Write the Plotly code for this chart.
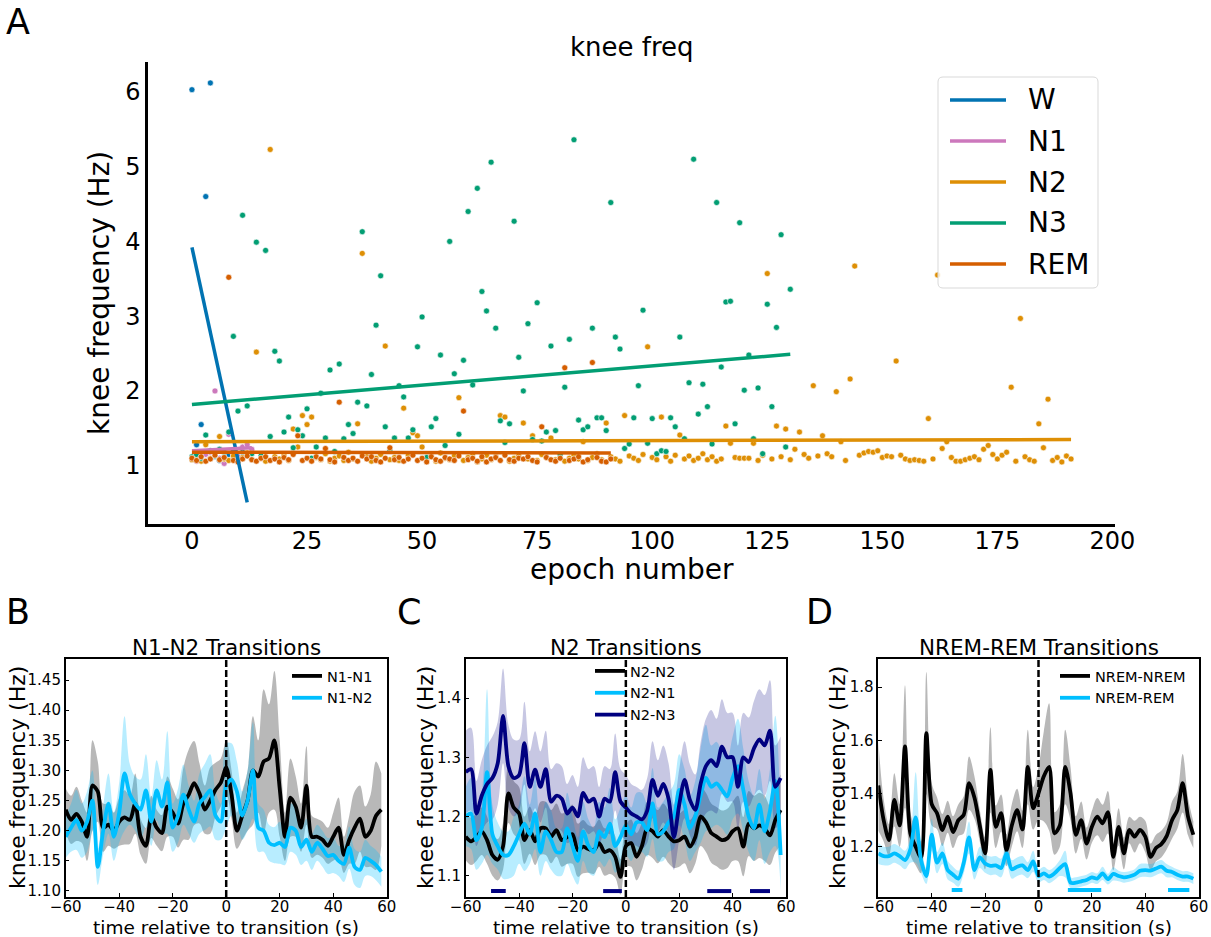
import plotly.graph_objects as go

FONT = "DejaVu Sans"

# ---------------- Panel A: knee frequency per epoch, by sleep stage ----------------
stages = ["W", "N1", "N2", "N3", "REM"]

knee_W = [6.03, 1.28, 1.55, 4.60, 6.12, 1.12, 1.07, 1.10, 1.15, 1.20, 1.12, 1.18, 1.13]

knee_N1 = [1.08, 1.06, 1.12, 1.15, 1.18, 2.00, 1.10, 1.03, 1.42, 1.15, 1.12, 1.25, 1.28, 1.22]

knee_N2 = [
    1.08, 1.12, 1.06, 1.28, 1.10, 1.15, 1.39, 1.09, 1.07, 1.13,
    1.05, 1.11, 1.17, 1.08, 2.52, 1.10, 1.06, 5.23, 1.12, 1.09,
    1.14, 1.07, 1.49, 1.25, 1.67, 1.55, 1.65, 1.11, 1.08, 1.16,
    1.06, 1.10, 1.13, 1.07, 1.18, 1.09, 1.56, 3.84, 1.12, 1.06,
    1.10, 1.15, 2.60, 1.08, 1.11, 1.07, 1.77, 1.14, 1.44, 1.40,
    1.25, 1.09, 1.12, 1.06, 1.17, 1.10, 1.08, 1.13, 1.91, 1.07,
    1.11, 1.16, 1.05, 1.09, 1.14, 1.08, 1.12, 1.67, 1.65, 1.06,
    1.10, 1.13, 1.57, 1.09, 1.40, 1.07, 1.15, 1.11, 1.37, 1.08,
    1.12, 1.06, 1.10, 1.14, 1.09, 1.32, 1.07, 1.11, 1.16, 1.08,
    1.57, 1.12, 1.09, 1.06, 1.67, 1.13, 1.10, 1.07, 1.15, 2.59,
    1.11, 1.08, 1.65, 1.12, 1.06, 1.14, 1.41, 1.09, 1.13, 1.07,
    1.10, 1.16, 1.08, 1.12, 1.06, 1.09, 1.53, 1.30, 1.11, 1.10,
    1.10, 1.10, 1.30, 1.07, 1.14, 3.57, 1.09, 1.53, 1.12, 1.49,
    1.08, 1.22, 1.45, 1.15, 1.10, 2.07, 1.13, 1.40, 1.16, 1.12,
    1.99, 1.32, 1.07, 2.16, 3.67, 1.14, 1.17, 1.19, 1.18, 1.20,
    1.11, 1.13, 1.12, 2.40, 1.14, 1.09, 1.07, 1.08, 1.07, 1.06,
    1.63, 1.09, 3.55, 1.23, 1.32, 1.11, 1.06, 1.06, 1.08, 1.10,
    1.12, 1.08, 1.22, 1.27, 1.15, 1.09, 1.14, 1.18, 2.05, 1.06,
    2.97, 1.12, 1.08, 1.06, 1.56, 1.24, 1.89, 1.07, 1.11, 1.05,
    1.13, 1.09,
]

knee_N3 = [
    1.12, 1.15, 1.10, 1.41, 1.20, 1.13, 1.22, 1.18, 1.45, 2.73,
    1.73, 4.35, 1.80, 1.16, 3.99, 1.13, 3.88, 1.39, 2.53, 2.40,
    1.45, 1.65, 1.24, 1.48, 1.40, 1.76, 1.10, 1.25, 1.97, 1.37,
    2.28, 1.19, 2.36, 1.36, 1.55, 1.43, 1.85, 4.13, 1.80, 2.22,
    2.88, 3.54, 1.52, 1.21, 1.37, 2.07, 1.92, 1.37, 1.48, 2.59,
    2.99, 1.11, 1.52, 1.63, 2.48, 1.27, 4.00, 2.23, 1.42, 2.41,
    4.40, 2.08, 4.71, 3.33, 3.07, 5.06, 2.84, 1.60, 1.31, 1.56,
    4.27, 2.45, 2.00, 2.90, 1.35, 3.18, 1.33, 1.45, 2.60, 1.47,
    1.15, 2.05, 2.69, 5.36, 1.61, 1.48, 1.52, 2.84, 1.64, 1.64,
    1.47, 4.52, 2.72, 2.56, 1.23, 1.29, 1.64, 2.07, 3.08, 1.30,
    1.63, 1.16, 1.20, 1.19, 1.64, 1.52, 2.72, 1.36, 2.11, 5.10,
    1.69, 2.09, 1.79, 1.29, 4.52, 2.32, 3.19, 3.20, 1.56, 4.25,
    2.01, 2.48, 1.36, 2.04, 1.16, 3.16, 1.79, 2.85, 4.09, 1.25,
    3.36,
]

knee_REM = [
    1.10, 1.07, 1.12, 1.06, 1.09, 1.14, 1.08, 1.11, 3.52, 1.07,
    1.05, 1.09, 1.13, 1.08, 1.06, 1.10, 1.12, 1.07, 1.09, 1.05,
    1.11, 1.08, 1.15, 1.40, 1.07, 1.10, 1.06, 1.12, 1.09, 1.23,
    1.08, 1.05, 1.85, 1.11, 1.07, 1.10, 1.06, 1.13, 1.09, 1.12,
    1.07, 1.05, 1.10, 1.24, 1.08, 1.11, 1.06, 1.09, 1.14, 1.07,
    1.10, 1.05, 1.12, 1.08, 1.06, 1.11, 1.09, 1.07, 1.13, 1.73,
    1.08, 1.10, 1.06, 1.12, 1.05, 1.09, 1.11, 1.07, 1.14, 1.08,
    1.06, 1.10, 1.09, 1.12, 1.07, 1.05, 1.52, 1.11, 1.08, 1.06,
    1.10, 2.31, 1.07, 1.09, 1.12, 1.05, 1.08, 2.38, 1.11, 1.06,
    1.05, 1.09,
]

# linear trend per stage: fitted value at the first and at the last epoch
fit_first = [3.92, 1.20, 1.32, 1.82, 1.18]
fit_last = [0.51, 1.24, 1.35, 2.49, 1.17]

# ---------------- Panels B-D: transition-locked averages ----------------
t_sec = list(range(-60, 60, 2))

# B: N1-N2 transitions
B_N1N1 = [1.235, 1.218, 1.228, 1.215, 1.190, 1.275, 1.265, 1.205, 1.210, 1.200,
          1.215, 1.222, 1.218, 1.245, 1.190, 1.175, 1.223, 1.205, 1.196, 1.240,
          1.230, 1.212, 1.245, 1.260, 1.279, 1.262, 1.235, 1.250, 1.268, 1.280,
          1.305, 1.260, 1.200, 1.225, 1.250, 1.300, 1.290, 1.315, 1.320, 1.350,
          1.270, 1.190, 1.255, 1.240, 1.205, 1.275, 1.190, 1.190, 1.185, 1.175,
          1.190, 1.205, 1.160, 1.185, 1.205, 1.220, 1.190, 1.200, 1.225, 1.235]
B_N1N1_ci = [0.035, 0.040, 0.045, 0.035, 0.040, 0.075, 0.050, 0.040, 0.035, 0.030,
             0.040, 0.045, 0.040, 0.050, 0.030, 0.030, 0.035, 0.030, 0.030, 0.050,
             0.040, 0.040, 0.060, 0.075, 0.070, 0.050, 0.040, 0.055, 0.045, 0.040,
             0.045, 0.040, 0.030, 0.040, 0.050, 0.090, 0.060, 0.120, 0.090, 0.115,
             0.080, 0.040, 0.065, 0.050, 0.040, 0.065, 0.035, 0.030, 0.030, 0.030,
             0.040, 0.050, 0.030, 0.040, 0.060, 0.055, 0.050, 0.060, 0.090, 0.060]
B_N1N2 = [1.190, 1.205, 1.218, 1.200, 1.215, 1.250, 1.140, 1.200, 1.245, 1.190,
          1.230, 1.295, 1.260, 1.245, 1.235, 1.267, 1.215, 1.267, 1.240, 1.280,
          1.205, 1.225, 1.260, 1.235, 1.215, 1.245, 1.256, 1.267, 1.225, 1.215,
          1.275, 1.285, 1.265, 1.225, 1.250, 1.300, 1.205, 1.200, 1.180, 1.176,
          1.180, 1.173, 1.205, 1.200, 1.173, 1.185, 1.165, 1.180, 1.170, 1.158,
          1.160, 1.150, 1.145, 1.172, 1.140, 1.135, 1.155, 1.150, 1.143, 1.132]
B_N1N2_ci = [0.035, 0.040, 0.050, 0.045, 0.050, 0.050, 0.030, 0.040, 0.050, 0.040,
             0.050, 0.095, 0.050, 0.045, 0.050, 0.060, 0.040, 0.050, 0.045, 0.085,
             0.040, 0.045, 0.050, 0.040, 0.035, 0.050, 0.055, 0.060, 0.040, 0.030,
             0.070, 0.060, 0.050, 0.040, 0.050, 0.080, 0.040, 0.035, 0.030, 0.030,
             0.035, 0.030, 0.040, 0.040, 0.030, 0.035, 0.030, 0.030, 0.030, 0.030,
             0.030, 0.025, 0.030, 0.035, 0.030, 0.030, 0.030, 0.025, 0.025, 0.025]

# C: N2 transitions
C_N2N2 = [1.166, 1.158, 1.165, 1.175, 1.160, 1.135, 1.127, 1.150, 1.239, 1.215,
          1.205, 1.160, 1.177, 1.158, 1.180, 1.180, 1.166, 1.177, 1.160, 1.165,
          1.170, 1.143, 1.149, 1.145, 1.143, 1.155, 1.140, 1.143, 1.132, 1.098,
          1.150, 1.155, 1.132, 1.150, 1.180, 1.175, 1.166, 1.177, 1.166, 1.158,
          1.160, 1.166, 1.149, 1.165, 1.200, 1.190, 1.172, 1.166, 1.160, 1.163,
          1.175, 1.180, 1.149, 1.188, 1.180, 1.185, 1.180, 1.168, 1.194, 1.211]
C_N2N2_ci = [0.040, 0.040, 0.040, 0.040, 0.040, 0.035, 0.035, 0.040, 0.050, 0.045,
             0.045, 0.040, 0.040, 0.040, 0.045, 0.045, 0.045, 0.045, 0.045, 0.045,
             0.050, 0.045, 0.045, 0.040, 0.040, 0.040, 0.040, 0.040, 0.035, 0.030,
             0.035, 0.040, 0.040, 0.040, 0.045, 0.045, 0.045, 0.045, 0.045, 0.045,
             0.045, 0.045, 0.045, 0.045, 0.050, 0.050, 0.050, 0.050, 0.050, 0.050,
             0.050, 0.055, 0.050, 0.055, 0.055, 0.055, 0.055, 0.050, 0.055, 0.060]
C_N2N1 = [1.200, 1.205, 1.160, 1.180, 1.275, 1.170, 1.150, 1.135, 1.135, 1.150,
          1.170, 1.188, 1.170, 1.205, 1.140, 1.175, 1.160, 1.140, 1.140, 1.180,
          1.150, 1.125, 1.175, 1.150, 1.140, 1.175, 1.165, 1.188, 1.150, 1.165,
          1.185, 1.170, 1.190, 1.190, 1.177, 1.222, 1.170, 1.175, 1.190, 1.200,
          1.245, 1.220, 1.180, 1.200, 1.235, 1.265, 1.250, 1.256, 1.245, 1.234,
          1.265, 1.285, 1.245, 1.200, 1.180, 1.220, 1.175, 1.210, 1.260, 1.135]
C_N2N1_ci = [0.050, 0.060, 0.050, 0.060, 0.140, 0.050, 0.040, 0.040, 0.040, 0.050,
             0.050, 0.080, 0.050, 0.060, 0.040, 0.050, 0.050, 0.040, 0.040, 0.060,
             0.050, 0.040, 0.050, 0.045, 0.040, 0.050, 0.050, 0.060, 0.045, 0.050,
             0.050, 0.045, 0.050, 0.050, 0.045, 0.060, 0.045, 0.050, 0.050, 0.055,
             0.060, 0.060, 0.055, 0.060, 0.080, 0.090, 0.070, 0.070, 0.065, 0.065,
             0.070, 0.080, 0.070, 0.060, 0.055, 0.060, 0.055, 0.070, 0.110, 0.060]
C_N2N3 = [1.275, 1.280, 1.205, 1.235, 1.255, 1.265, 1.290, 1.370, 1.285, 1.265,
          1.270, 1.324, 1.250, 1.279, 1.250, 1.280, 1.225, 1.235, 1.230, 1.205,
          1.215, 1.200, 1.240, 1.225, 1.230, 1.200, 1.230, 1.225, 1.275, 1.225,
          1.215, 1.205, 1.200, 1.195, 1.210, 1.262, 1.235, 1.255, 1.230, 1.165,
          1.220, 1.262, 1.228, 1.211, 1.255, 1.285, 1.295, 1.285, 1.318, 1.300,
          1.300, 1.250, 1.300, 1.292, 1.315, 1.330, 1.320, 1.345, 1.250, 1.265]
C_N2N3_ci = [0.070, 0.070, 0.055, 0.060, 0.065, 0.070, 0.070, 0.080, 0.070, 0.065,
             0.060, 0.070, 0.060, 0.065, 0.060, 0.065, 0.055, 0.055, 0.055, 0.050,
             0.055, 0.050, 0.060, 0.055, 0.055, 0.050, 0.055, 0.055, 0.065, 0.055,
             0.055, 0.050, 0.050, 0.050, 0.055, 0.065, 0.060, 0.065, 0.060, 0.055,
             0.060, 0.065, 0.060, 0.060, 0.070, 0.080, 0.085, 0.080, 0.080, 0.075,
             0.075, 0.070, 0.075, 0.075, 0.080, 0.085, 0.085, 0.085, 0.070, 0.070]
C_sig_start = [-50.5, -8.5, 30.5, 46.5]
C_sig_end = [-45.0, -1.5, 39.5, 54.0]

# D: NREM-REM transitions
D_NN = [1.430, 1.300, 1.225, 1.376, 1.280, 1.577, 1.250, 1.200, 1.160, 1.627,
        1.360, 1.326, 1.263, 1.313, 1.255, 1.300, 1.320, 1.439, 1.385, 1.280,
        1.175, 1.489, 1.275, 1.326, 1.187, 1.280, 1.338, 1.265, 1.500, 1.345,
        1.401, 1.465, 1.500, 1.250, 1.280, 1.500, 1.400, 1.245, 1.300, 1.212,
        1.275, 1.313, 1.288, 1.330, 1.162, 1.275, 1.175, 1.263, 1.238, 1.263,
        1.238, 1.162, 1.195, 1.210, 1.240, 1.300, 1.338, 1.439, 1.313, 1.245]
D_NN_ci = [0.170, 0.080, 0.060, 0.100, 0.080, 0.230, 0.080, 0.070, 0.060, 0.230,
           0.080, 0.060, 0.060, 0.060, 0.060, 0.060, 0.070, 0.100, 0.080, 0.060,
           0.060, 0.160, 0.080, 0.070, 0.060, 0.080, 0.080, 0.070, 0.140, 0.080,
           0.100, 0.170, 0.240, 0.080, 0.080, 0.140, 0.100, 0.070, 0.070, 0.060,
           0.060, 0.070, 0.070, 0.080, 0.050, 0.070, 0.060, 0.050, 0.060, 0.050,
           0.060, 0.050, 0.050, 0.050, 0.050, 0.070, 0.070, 0.110, 0.070, 0.050]
D_NR = [1.175, 1.165, 1.165, 1.175, 1.165, 1.150, 1.190, 1.310, 1.150, 1.090,
        1.245, 1.140, 1.175, 1.112, 1.095, 1.080, 1.140, 1.235, 1.112, 1.160,
        1.137, 1.128, 1.130, 1.120, 1.175, 1.115, 1.125, 1.130, 1.112, 1.145,
        1.090, 1.100, 1.088, 1.100, 1.120, 1.135, 1.065, 1.065, 1.070, 1.075,
        1.085, 1.080, 1.100, 1.078, 1.098, 1.090, 1.085, 1.088, 1.095, 1.110,
        1.112, 1.110, 1.118, 1.125, 1.110, 1.105, 1.095, 1.088, 1.088, 1.080]
D_NR_ci = [0.040, 0.035, 0.035, 0.035, 0.035, 0.035, 0.050, 0.170, 0.050, 0.030,
           0.060, 0.040, 0.040, 0.035, 0.030, 0.030, 0.040, 0.060, 0.035, 0.040,
           0.035, 0.035, 0.035, 0.035, 0.040, 0.035, 0.035, 0.035, 0.030, 0.040,
           0.025, 0.025, 0.025, 0.025, 0.030, 0.050, 0.020, 0.020, 0.020, 0.020,
           0.020, 0.020, 0.025, 0.020, 0.025, 0.020, 0.020, 0.020, 0.020, 0.025,
           0.025, 0.025, 0.025, 0.025, 0.025, 0.020, 0.020, 0.020, 0.020, 0.020]
D_sig_start = [-32.5, 11.0, 48.5]
D_sig_end = [-28.5, 23.5, 56.5]

# ---------------- styling ----------------
stage_color = {"W": "#0173b2", "N1": "#cc78bc", "N2": "#de8f05",
               "N3": "#029e73", "REM": "#d55e00"}
BLACK = "#000000"
SKY = "#00bfff"
NAVY = "#000080"
band_color = {BLACK: "rgba(0,0,0,0.28)", SKY: "rgba(0,191,255,0.28)",
              NAVY: "rgba(0,0,128,0.22)"}

W_PX, H_PX = 1211, 937


def px_x(p):
    return p / W_PX


def px_y(p):
    return 1 - p / H_PX


fig = go.Figure()

# ---- Panel A ----
stage_values = [knee_W, knee_N1, knee_N2, knee_N3, knee_REM]
for name, vals in zip(stages, stage_values):
    fig.add_trace(go.Scatter(
        x=list(range(len(vals))), y=vals, mode="markers",
        marker=dict(size=6, color=stage_color[name], line=dict(width=0.6, color="white")),
        showlegend=False, hoverinfo="skip", xaxis="x", yaxis="y"))
for name, vals, y0, y1 in zip(stages, stage_values, fit_first, fit_last):
    fig.add_trace(go.Scatter(
        x=[0, len(vals) - 1], y=[y0, y1], mode="lines", name=name,
        line=dict(color=stage_color[name], width=3.5),
        showlegend=False, xaxis="x", yaxis="y"))


def add_band(mean, ci, color, ax):
    upper = [m + c for m, c in zip(mean, ci)]
    lower = [m - c for m, c in zip(mean, ci)]
    fig.add_trace(go.Scatter(x=t_sec, y=upper, mode="lines", line=dict(width=0, shape="spline"),
                             showlegend=False, hoverinfo="skip", xaxis="x" + ax, yaxis="y" + ax))
    fig.add_trace(go.Scatter(x=t_sec, y=lower, mode="lines", line=dict(width=0, shape="spline"),
                             fill="tonexty", fillcolor=band_color[color],
                             showlegend=False, hoverinfo="skip", xaxis="x" + ax, yaxis="y" + ax))


def add_mean(mean, color, ax, legend, name):
    fig.add_trace(go.Scatter(x=t_sec, y=mean, mode="lines", name=name,
                             line=dict(color=color, width=3.8, shape="spline", smoothing=0.8),
                             legend=legend, xaxis="x" + ax, yaxis="y" + ax))


def add_sig(starts, ends, level, color, ax):
    for s, e in zip(starts, ends):
        fig.add_trace(go.Scatter(x=[s, e], y=[level, level], mode="lines",
                                 line=dict(color=color, width=4), showlegend=False,
                                 hoverinfo="skip", xaxis="x" + ax, yaxis="y" + ax))


# ---- Panel B ----
add_band(B_N1N1, B_N1N1_ci, BLACK, "2")
add_band(B_N1N2, B_N1N2_ci, SKY, "2")
add_mean(B_N1N1, BLACK, "2", "legend2", "N1-N1")
add_mean(B_N1N2, SKY, "2", "legend2", "N1-N2")

# ---- Panel C ----
add_band(C_N2N2, C_N2N2_ci, BLACK, "3")
add_band(C_N2N1, C_N2N1_ci, SKY, "3")
add_band(C_N2N3, C_N2N3_ci, NAVY, "3")
add_mean(C_N2N2, BLACK, "3", "legend3", "N2-N2")
add_mean(C_N2N1, SKY, "3", "legend3", "N2-N1")
add_mean(C_N2N3, NAVY, "3", "legend3", "N2-N3")
add_sig(C_sig_start, C_sig_end, 1.074, NAVY, "3")

# ---- Panel D ----
add_band(D_NN, D_NN_ci, BLACK, "4")
add_band(D_NR, D_NR_ci, SKY, "4")
add_mean(D_NN, BLACK, "4", "legend4", "NREM-NREM")
add_mean(D_NR, SKY, "4", "legend4", "NREM-REM")
add_sig(D_sig_start, D_sig_end, 1.037, SKY, "4")

tick_font_small = dict(family=FONT, size=15, color="black")
x_ticks = [-60, -40, -20, 0, 20, 40, 60]
x_ticktext = ["\u221260", "\u221240", "\u221220", "0", "20", "40", "60"]


def small_xaxis(domain, anchor):
    return dict(domain=domain, range=[-60, 60], tickvals=x_ticks, ticktext=x_ticktext,
                ticks="inside", ticklen=4, tickcolor="black", showline=True, mirror=True,
                linecolor="black", linewidth=1.5, showgrid=False, zeroline=False,
                tickfont=tick_font_small, anchor=anchor, automargin=False,
                ticklabelstandoff=-5)


def small_yaxis(domain, rng, vals, fmt, anchor):
    return dict(domain=domain, range=rng, tickvals=vals, ticktext=[fmt.format(v) for v in vals],
                ticks="inside", ticklen=4, tickcolor="black", showline=True, mirror=True,
                linecolor="black", linewidth=1.5, showgrid=False, zeroline=False,
                tickfont=tick_font_small, anchor=anchor, automargin=False)


y_small = [px_y(897), px_y(659)]

legend_common = dict(xanchor="left", yanchor="top", traceorder="normal",
                     bgcolor="rgba(0,0,0,0)", font=dict(family=FONT, size=14.5, color="black"))

fig.update_layout(
    width=W_PX, height=H_PX, margin=dict(l=0, r=0, t=0, b=0, autoexpand=False),
    paper_bgcolor="white", plot_bgcolor="white",
    font=dict(family=FONT, color="black"),
    xaxis=dict(domain=[px_x(148), px_x(1115)], range=[-9.55, 200.55],
               tickvals=[0, 25, 50, 75, 100, 125, 150, 175, 200], ticks="",
               showline=True, linecolor="black", linewidth=2.5, showgrid=False, zeroline=False,
               tickfont=dict(family=FONT, size=24, color="black"), anchor="y", automargin=False,
               ticklabelstandoff=-7),
    yaxis=dict(domain=[px_y(524), px_y(62)], range=[0.22, 6.40],
               tickvals=[1, 2, 3, 4, 5, 6], ticks="",
               showline=True, linecolor="black", linewidth=2.5, showgrid=False, zeroline=False,
               tickfont=dict(family=FONT, size=24, color="black"), anchor="x", automargin=False),
    xaxis2=small_xaxis([px_x(65.7), px_x(386.7)], "y2"),
    yaxis2=small_yaxis(y_small, [1.09, 1.485], [1.10, 1.15, 1.20, 1.25, 1.30, 1.35, 1.40, 1.45],
                       "{:.2f}", "x2"),
    xaxis3=small_xaxis([px_x(465.7), px_x(786)], "y3"),
    yaxis3=small_yaxis(y_small, [1.064, 1.466], [1.1, 1.2, 1.3, 1.4], "{:.1f}", "x3"),
    xaxis4=small_xaxis([px_x(878.3), px_x(1198.7)], "y4"),
    yaxis4=small_yaxis(y_small, [1.011, 1.906], [1.2, 1.4, 1.6, 1.8], "{:.1f}", "x4"),
    legend2=dict(legend_common, x=px_x(287), y=px_y(660)),
    legend3=dict(legend_common, x=px_x(590), y=px_y(655)),
    legend4=dict(legend_common, x=px_x(1055), y=px_y(660)),
)

# Panel A legend box with one long colour handle per stage
box_l, box_r, box_t, box_b, rad = 938, 1098, 77, 288, 5
fig.add_shape(type="path", xref="paper", yref="paper",
              path=(f"M{px_x(box_l + rad)},{px_y(box_t)} L{px_x(box_r - rad)},{px_y(box_t)} "
                    f"Q{px_x(box_r)},{px_y(box_t)} {px_x(box_r)},{px_y(box_t + rad)} "
                    f"L{px_x(box_r)},{px_y(box_b - rad)} "
                    f"Q{px_x(box_r)},{px_y(box_b)} {px_x(box_r - rad)},{px_y(box_b)} "
                    f"L{px_x(box_l + rad)},{px_y(box_b)} "
                    f"Q{px_x(box_l)},{px_y(box_b)} {px_x(box_l)},{px_y(box_b - rad)} "
                    f"L{px_x(box_l)},{px_y(box_t + rad)} "
                    f"Q{px_x(box_l)},{px_y(box_t)} {px_x(box_l + rad)},{px_y(box_t)} Z"),
              fillcolor="rgba(255,255,255,0.8)", line=dict(color="#d9d9d9", width=1), layer="above")
for i, name in enumerate(stages):
    yrow = 100 + 41 * i
    fig.add_shape(type="line", xref="paper", yref="paper",
                  x0=px_x(950), x1=px_x(1006), y0=px_y(yrow), y1=px_y(yrow),
                  line=dict(color=stage_color[name], width=3.5), layer="above")
    fig.add_annotation(text=name, x=px_x(1026), y=px_y(yrow), xref="paper", yref="paper",
                       showarrow=False, xanchor="left", yanchor="middle",
                       font=dict(family=FONT, size=28, color="black"))

# transition markers at t = 0
for ax in ["2", "3", "4"]:
    fig.add_shape(type="line", xref="x" + ax, yref="y" + ax + " domain",
                  x0=0, x1=0, y0=0, y1=1, line=dict(color="black", width=2.5, dash="7px,3px"))

# titles, axis labels and panel letters
notes = [
    ("knee freq", 631.5, 47, 26, 0),
    ("epoch number", 631.5, 569, 28, 0),
    ("knee frequency (Hz)", 99, 293, 28, -90),
    ("N1-N2 Transitions", 226, 647, 21.5, 0),
    ("N2 Transitions", 626, 647, 21.5, 0),
    ("NREM-REM Transitions", 1039, 647, 21.5, 0),
    ("time relative to transition (s)", 226, 927, 18.5, 0),
    ("time relative to transition (s)", 626, 927, 18.5, 0),
    ("time relative to transition (s)", 1038.5, 927, 18.5, 0),
    ("knee frequency (Hz)", 17, 778, 22, -90),
    ("knee frequency (Hz)", 425, 778, 22, -90),
    ("knee frequency (Hz)", 837, 778, 22, -90),
]
for text, xp, yp, size, ang in notes:
    fig.add_annotation(text=text, x=px_x(xp), y=px_y(yp), xref="paper", yref="paper",
                       showarrow=False, xanchor="center", yanchor="middle", textangle=ang,
                       font=dict(family=FONT, size=size, color="black"))

letters = [("A", 4, 0), ("B", 4, 590), ("C", 395, 590), ("D", 804, 590)]
for text, xp, yp in letters:
    fig.add_annotation(text=text, x=px_x(xp), y=px_y(yp), xref="paper", yref="paper",
                       showarrow=False, xanchor="left", yanchor="top",
                       font=dict(family=FONT, size=35, color="black"))

fig.write_html("out.html")
